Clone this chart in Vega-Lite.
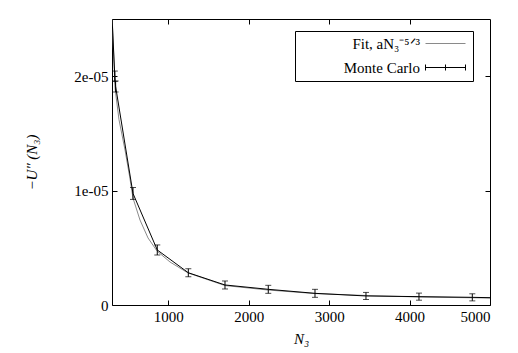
{
  "$schema": "https://vega.github.io/schema/vega-lite/v6.json",
  "width": 378,
  "height": 286,
  "autosize": {"type": "none"},
  "padding": {"left": 112, "top": 19, "right": 28, "bottom": 48},
  "background": "white",
  "config": {
    "view": {"stroke": "black", "strokeWidth": 1},
    "font": "Liberation Serif",
    "axis": {
      "grid": false,
      "domain": false,
      "tickColor": "black",
      "tickSize": -5,
      "labelColor": "black",
      "labelFont": "Liberation Serif",
      "labelFontSize": 15,
      "titleFont": "Liberation Serif",
      "titleFontSize": 15,
      "titleFontWeight": "normal",
      "titleFontStyle": "italic",
      "titleColor": "black"
    },
    "legend": {
      "labelFont": "Liberation Serif",
      "labelFontSize": 15,
      "labelColor": "black"
    }
  },
  "datasets": {
    "fit": [
      {"series": "fit", "N": 300, "U": 2.55e-05},
      {"series": "fit", "N": 337, "U": 1.90e-05},
      {"series": "fit", "N": 387, "U": 1.62e-05},
      {"series": "fit", "N": 462, "U": 1.355e-05},
      {"series": "fit", "N": 520, "U": 1.12e-05},
      {"series": "fit", "N": 561, "U": 0.935e-05},
      {"series": "fit", "N": 648, "U": 0.743e-05},
      {"series": "fit", "N": 748, "U": 0.586e-05},
      {"series": "fit", "N": 860, "U": 0.472e-05},
      {"series": "fit", "N": 1021, "U": 0.376e-05},
      {"series": "fit", "N": 1245, "U": 0.28e-05},
      {"series": "fit", "N": 1705, "U": 0.17e-05},
      {"series": "fit", "N": 2240, "U": 0.131e-05},
      {"series": "fit", "N": 2824, "U": 0.10e-05},
      {"series": "fit", "N": 3458, "U": 0.083e-05},
      {"series": "fit", "N": 4117, "U": 0.07e-05},
      {"series": "fit", "N": 5000, "U": 0.061e-05}
    ],
    "mc": [
      {"series": "mc", "N": 300, "U": 2.52e-05},
      {"series": "mc", "N": 335, "U": 2.0e-05, "lo": 1.955e-05, "hi": 2.045e-05},
      {"series": "mc", "N": 345, "U": 1.91e-05, "lo": 1.862e-05, "hi": 1.958e-05},
      {"series": "mc", "N": 561, "U": 0.975e-05, "lo": 0.923e-05, "hi": 1.027e-05},
      {"series": "mc", "N": 863, "U": 0.481e-05, "lo": 0.437e-05, "hi": 0.525e-05},
      {"series": "mc", "N": 1249, "U": 0.282e-05, "lo": 0.247e-05, "hi": 0.317e-05},
      {"series": "mc", "N": 1705, "U": 0.175e-05, "lo": 0.14e-05, "hi": 0.21e-05},
      {"series": "mc", "N": 2243, "U": 0.137e-05, "lo": 0.102e-05, "hi": 0.172e-05},
      {"series": "mc", "N": 2824, "U": 0.102e-05, "lo": 0.067e-05, "hi": 0.137e-05},
      {"series": "mc", "N": 3458, "U": 0.079e-05, "lo": 0.048e-05, "hi": 0.11e-05},
      {"series": "mc", "N": 4117, "U": 0.073e-05, "lo": 0.042e-05, "hi": 0.104e-05},
      {"series": "mc", "N": 4780, "U": 0.067e-05, "lo": 0.036e-05, "hi": 0.098e-05},
      {"series": "mc", "N": 5000, "U": 0.064e-05}
    ]
  },
  "layer": [
    {
      "data": {"name": "fit"},
      "mark": {"type": "line", "clip": true, "strokeWidth": 1},
      "encoding": {
        "x": {
          "field": "N", "type": "quantitative",
          "scale": {"domain": [300, 5000], "nice": false, "zero": false},
          "axis": {"orient": "bottom", "values": [1000, 2000, 3000, 4000, 5000], "format": "d", "labelPadding": 9, "labelFont": "Liberation Serif", "title": "N₃", "titlePadding": 7}
        },
        "y": {
          "field": "U", "type": "quantitative",
          "scale": {"domain": [0, 2.5e-05], "nice": false},
          "axis": {"orient": "left", "values": [0, 1e-05, 2e-05], "labelPadding": 9, "labelFont": "Liberation Serif",
            "labelExpr": "datum.value == 0 ? '0' : replace(format(datum.value, '.0e'), 'e-5', 'e-05')",
            "title": "−U″ (N₃)", "titlePadding": 34}
        },
        "color": {
          "field": "series", "type": "nominal",
          "scale": {"domain": ["fit", "mc"], "range": ["#8a8a8a", "#000000"]},
          "legend": {
            "title": null,
            "orient": "none",
            "legendX": 183,
            "legendY": 12,
            "padding": 5,
            "strokeColor": "black",
            "fillColor": "white",
            "symbolSize": 100,
            "symbolStrokeWidth": 1,
            "symbolFillColor": "transparent",
            "symbolOffset": 138,
            "labelOffset": -33,
            "labelAlign": "right",
            "rowPadding": 8,
            "labelExpr": "datum.value == 'fit' ? 'Fit, aN₃⁻⁵ᐟ³' : 'Monte Carlo'",
            "encode": {
              "symbols": {"update": {"shape": {"signal": "datum.value == 'fit' ? 'M-4,0H4' : 'M-4,0H4M-4,-0.6V0.6M4,-0.6V0.6M0,-0.6V0.6'"}}}
            }
          }
        }
      }
    },
    {
      "data": {"name": "mc"},
      "mark": {"type": "line", "clip": true, "strokeWidth": 1},
      "encoding": {
        "x": {"field": "N", "type": "quantitative", "axis": {"orient": "top", "values": [1000, 2000, 3000, 4000], "labels": false, "title": null}},
        "y": {"field": "U", "type": "quantitative", "axis": {"orient": "right", "values": [1e-05, 2e-05], "labels": false, "title": null}},
        "color": {"field": "series", "type": "nominal"}
      }
    },
    {
      "data": {"name": "mc"},
      "transform": [{"filter": "isValid(datum.lo)"}],
      "mark": {"type": "errorbar", "color": "black", "ticks": {"color": "black", "size": 6}, "clip": true},
      "encoding": {
        "x": {"field": "N", "type": "quantitative", "axis": null},
        "y": {"field": "lo", "type": "quantitative", "axis": null},
        "y2": {"field": "hi"}
      }
    }
  ],
  "resolve": {"axis": {"x": "independent", "y": "independent"}}
}
